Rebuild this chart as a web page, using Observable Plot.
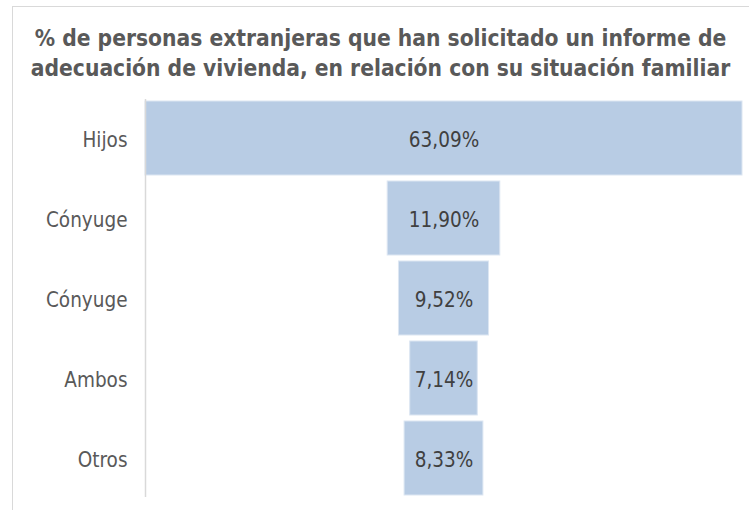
<!DOCTYPE html>
<html>
<head>
<meta charset="utf-8">
<script src="https://cdn.jsdelivr.net/npm/d3@7"></script>
<script src="https://cdn.jsdelivr.net/npm/@observablehq/plot@0.6"></script>
<style>
  html, body { margin: 0; padding: 0; background: #fff; }
  body { width: 749px; height: 510px; position: relative; overflow: hidden; }
  #frame { position: absolute; left: 12px; top: 6px; width: 800px; height: 600px;
           border-left: 1px solid #d9d9d9; border-top: 1px solid #d9d9d9; }
  #title { position: absolute; left: 12px; width: 737px; top: 23px; text-align: center;
           font-family: "DejaVu Sans Condensed", sans-serif;
           font-weight: bold; font-size: 22.6px; line-height: 30px; color: #595959; }
  #chart { position: absolute; left: 0; top: 90px; }
</style>
</head>
<body>
<div id="frame"></div>
<div id="title">% de personas extranjeras que han solicitado un informe de<br>adecuación de vivienda, en relación con su situación familiar</div>
<div id="chart"></div>
<script>
const categories = ["Hijos", "Cónyuge", "Cónyuge", "Ambos", "Otros"];
const values = [63.09, 11.90, 9.52, 7.14, 8.33];

const data = categories.map((c, i) => ({ i, cat: c, v: values[i] }));
const maxV = d3.max(values);
const fmt = v => v.toFixed(2).replace(".", ",") + "%";
const font = "'DejaVu Sans Condensed', sans-serif";

const chart = Plot.plot({
  width: 749,
  height: 420,
  marginLeft: 145,
  marginRight: 7,
  marginTop: 11,
  marginBottom: 15,
  style: { fontFamily: font, fontSize: "20.5px", color: "#595959", background: "transparent" },
  x: { domain: [-maxV / 2, maxV / 2], axis: null },
  y: { domain: data.map(d => d.i), paddingInner: 0.075, paddingOuter: 0, label: null, axis: null },
  marks: [
    Plot.barX(data, { y: "i", x1: d => -d.v / 2, x2: d => d.v / 2,
                      fill: "#b8cce4", stroke: "#dce6f2", strokeWidth: 1 }),
    Plot.ruleX([-maxV / 2], { stroke: "#d9d9d9", strokeWidth: 1.5, insetTop: -2, insetBottom: -2 }),
    Plot.axisY({ tickFormat: i => categories[i], tickSize: 0, tickPadding: 18, dy: 2,
                 label: null, fill: "#595959" }),
    Plot.text(data, { y: "i", x: 0, text: d => fmt(d.v), fill: "#404040",
                      fontSize: 20.5, dy: 2 })
  ]
});
document.getElementById("chart").appendChild(chart);
</script>
</body>
</html>
